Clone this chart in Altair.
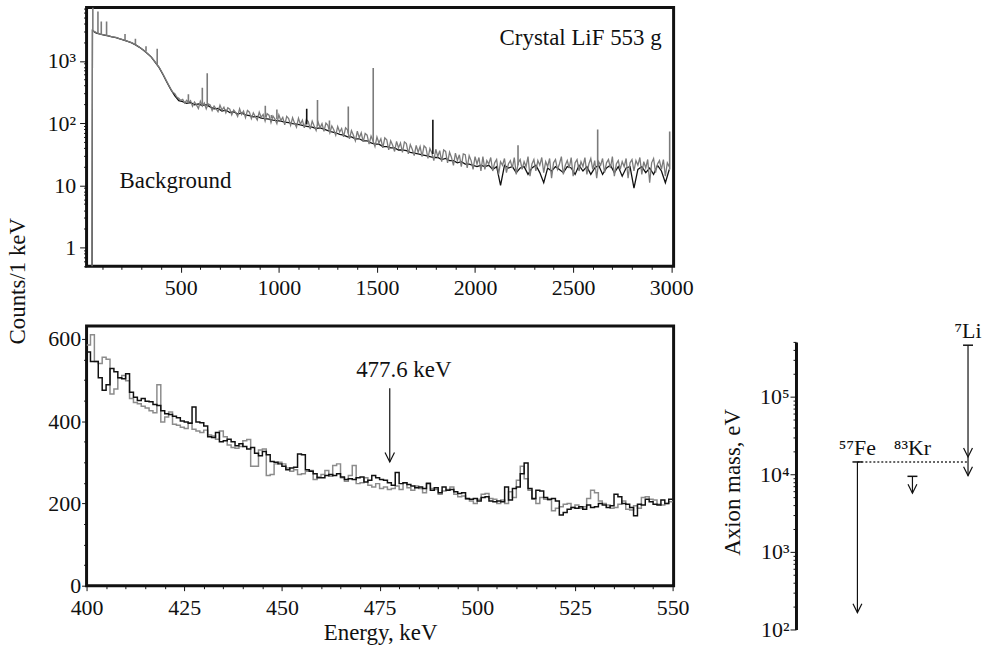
import altair as alt
import pandas as pd

FONT = "Liberation Serif"
BLACK = "#111111"
GRAY_TOP = "#7b7b7b"
GRAY_BOT = "#8c8c8c"

# ---------------- top panel: full spectrum (log) ----------------
top_start_energy = [44, 48]
top_start_counts = [0.3, 0.3]
top_gray_energy_low = list(range(50, 450, 20))
top_gray_low = [3100, 2850, 2700, 2620, 2540, 2440, 2380, 2260, 2170, 2060,
                1960, 1820, 1660, 1490, 1320, 1160, 960, 790, 610, 460]
top_gray_energy_high = list(range(450, 3000, 10))
top_gray_high = [
    350, 312, 296, 262, 250, 232, 240, 210, 232, 214,
    230, 186, 218, 196, 172, 224, 188, 210, 170, 204,
    196, 160, 188, 170, 152, 194, 162, 180, 146, 176,
    168, 136, 162, 148, 128, 170, 138, 156, 122, 160,
    150, 118, 146, 128, 112, 150, 124, 138, 108, 142,
    134, 102, 130, 116, 98, 136, 110, 124, 94, 128,
    118, 92, 122, 100, 86, 120, 96, 112, 84, 114,
    106, 80, 108, 90, 76, 104, 84, 98, 74, 100,
    92, 70, 90, 78, 64, 88, 72, 82, 60, 84,
    78, 56, 76, 64, 52, 74, 58, 70, 50, 68,
    64, 46, 62, 52, 42, 60, 48, 56, 40, 58,
    54, 37, 52, 44, 35, 51, 40, 48, 34, 50,
    47, 32, 45, 38, 30, 44, 34, 42, 29, 43,
    40, 27, 39, 33, 25, 38, 29, 36, 24, 37,
    35, 23, 34, 28, 21, 33, 25, 31, 20, 32,
    31, 19, 30, 25, 18, 29, 22, 28, 17, 29,
    18, 25, 22, 28, 17, 23, 26, 15, 24, 21,
    27, 16, 22, 25, 19, 28, 15, 23, 26, 18,
    24, 20, 29, 14, 22, 26, 17, 25, 21, 28,
    16, 24, 20, 27, 13, 23, 26, 18, 22, 29,
    15, 21, 25, 19, 28, 14, 23, 26, 17, 24,
    20, 28, 15, 22, 27, 18, 25, 13, 24, 21,
    27, 16, 23, 26, 19, 29, 14, 22, 25, 18,
    24, 20, 27, 13, 23, 26, 17, 25, 21, 28,
    15, 24, 19, 26, 11, 23, 27, 16, 22, 25,
    18, 26, 14, 23, 20,
]
top_black_energy = list(range(50, 3000, 20))
top_black = [
    3050, 2800, 2680, 2600, 2520, 2430, 2360, 2250, 2160, 2050,
    1950, 1810, 1650, 1480, 1310, 1150, 950, 780, 600, 450,
    345, 275, 230, 222, 208, 214, 196, 204, 192, 198,
    182, 170, 172, 156, 162, 148, 152, 140, 146, 136,
    132, 126, 128, 120, 118, 116, 112, 110, 108, 104,
    102, 98, 96, 94, 90, 88, 86, 82, 84, 80,
    76, 72, 70, 66, 64, 60, 60, 56, 56, 52,
    52, 48, 46, 46, 42, 42, 40, 40, 37, 37,
    36, 34, 33, 32, 31, 30, 29, 28, 28, 26,
    27, 25, 25, 23, 24, 22, 22, 21, 20, 21,
    20, 21, 18, 20, 10, 21, 19, 20, 16, 19,
    20, 15, 19, 21, 16, 11, 19, 17, 20, 18,
    16, 20, 19, 15, 21, 17, 20, 15, 19, 21,
    15, 19, 21, 16, 20, 14, 19, 20, 9, 18,
    20, 16, 19, 15, 21, 17, 11, 18,
]
top_peak_energy = [52, 78, 95, 122, 216, 269, 323, 380, 539, 610, 635, 931, 962,
                   990, 1142, 1197, 1258, 1354, 1481, 1785, 2219, 2625, 2992]
top_peak_base = [3000, 2800, 2700, 2550, 2150, 1850, 1420, 880, 215, 195, 190, 125, 120,
                 115, 95, 90, 80, 68, 50, 32, 21, 20, 18]
top_peak_top = [7180, 6200, 4300, 4300, 2700, 2270, 1720, 1570, 290, 370, 630, 190, 135,
                165, 170, 235, 110, 185, 770, 113, 44, 79, 73]
top_peak_series = ["gray", "gray", "gray", "gray", "gray", "gray", "gray", "gray", "gray",
                   "gray", "gray", "gray", "gray", "gray", "black", "gray", "gray", "gray",
                   "gray", "black", "gray", "gray", "gray"]

top_x_ticks = list(range(100, 3001, 100))
top_y_ticks = [0.5, 0.6, 0.7, 0.8, 0.9, 1, 2, 3, 4, 5, 6, 7, 8, 9,
               10, 20, 30, 40, 50, 60, 70, 80, 90,
               100, 200, 300, 400, 500, 600, 700, 800, 900,
               1000, 2000, 3000, 4000, 5000, 6000, 7000]

# ---------------- bottom panel: 400-550 keV histogram ----------------
bot_edges = list(range(400, 551))
bot_black = [
    568, 545, 545, 505, 475, 488, 528, 520, 505, 503,
    515, 470, 458, 450, 455, 448, 447, 440, 438, 425,
    418, 416, 412, 408, 400, 398, 395, 434, 398, 396,
    388, 362, 360, 372, 350, 352, 356, 350, 340, 345,
    338, 332, 336, 322, 316, 326, 318, 302, 300, 296,
    290, 282, 286, 288, 320, 318, 282, 278, 272, 262,
    262, 268, 270, 268, 272, 264, 258, 260, 258, 262,
    264, 252, 256, 268, 262, 258, 256, 250, 244, 275,
    248, 250, 246, 242, 238, 240, 236, 248, 232, 238,
    226, 240, 232, 234, 228, 224, 226, 212, 210, 212,
    206, 214, 216, 206, 204, 206, 204, 240, 208, 236,
    240, 272, 298, 236, 212, 232, 230, 214, 210, 212,
    206, 172, 178, 186, 190, 188, 192, 186, 196, 190,
    192, 200, 196, 190, 194, 222, 216, 200, 198, 190,
    170, 198, 196, 210, 204, 198, 196, 208, 200, 210,
]
bot_gray = [
    585, 610, 545, 540, 555, 550, 466, 478, 505, 511,
    498, 455, 445, 442, 436, 432, 425, 420, 488, 398,
    410, 422, 392, 390, 385, 382, 396, 380, 376, 372,
    378, 366, 364, 356, 376, 362, 342, 336, 334, 338,
    352, 355, 290, 290, 330, 332, 268, 270, 296, 300,
    296, 286, 278, 282, 270, 272, 278, 280, 258, 264,
    270, 280, 266, 292, 296, 262, 254, 268, 292, 248,
    250, 262, 244, 240, 248, 236, 240, 234, 236, 242,
    234, 250, 238, 232, 242, 236, 226, 250, 236, 234,
    222, 230, 234, 240, 222, 216, 218, 210, 206, 200,
    210, 222, 224, 212, 210, 200, 208, 200, 228, 214,
    256, 290, 260, 232, 210, 200, 214, 210, 208, 182,
    188, 192, 198, 200, 190, 196, 188, 192, 212, 232,
    226, 206, 200, 196, 188, 190, 198, 206, 186, 184,
    194, 188, 214, 216, 210, 208, 198, 196, 200, 204,
]
bot_x_ticks = list(range(400, 551, 5))
bot_y_ticks = list(range(0, 601, 50))
line_energy = [477.6]
arrow_from = [480]
arrow_to = [300.7]
line_label = ["477.6 keV"]
line_label_energy = [469]
line_label_counts = [507]

# ---------------- right panel: axion mass limits ----------------
nuclide = ["\u2075\u2077Fe", "\u2078\u00b3Kr", "\u2077Li"]
nuclide_slot = [32.5, 61.6, 91.0]
mass_upper = [14400, 9400, 460000]
mass_lower = [165, 5700, 9600]
label_mass = [14400, 14400, 460000]
li_extra_head = [16700]
mass_ticks = [100, 200, 300, 400, 500, 600, 700, 800, 900,
              1000, 2000, 3000, 4000, 5000, 6000, 7000, 8000, 9000,
              10000, 20000, 30000, 40000, 50000, 60000, 70000, 80000, 90000,
              100000, 200000, 300000, 400000, 500000]

ARROW = "M-1,-2L0,0L1,-2"
LBL = 22


def cond(test, major, minor):
    return {"condition": {"test": test, "value": major}, "value": minor}


# ================= top chart =================
top_black_df = pd.DataFrame({"E": top_start_energy + top_black_energy,
                             "c": top_start_counts + top_black})
top_gray_df = pd.DataFrame({"E": top_start_energy + top_gray_energy_low + top_gray_energy_high,
                            "c": top_start_counts + top_gray_low + top_gray_high})
peaks_df = pd.DataFrame({"E": top_peak_energy, "c": top_peak_base, "c2": top_peak_top,
                         "s": top_peak_series})

tx_test = "datum.value % 500 == 0"
top_x_axis = alt.Axis(
    values=top_x_ticks, title=None, grid=False, domain=False,
    labelExpr="datum.value % 500 == 0 ? '' + datum.value : ''",
    tickSize=cond(tx_test, 6, 3), labelFontSize=cond(tx_test, LBL, 0),
    labelPadding=5, labelFlush=False, labelOverlap=False,
)
ty_test = "datum.value == 1 || datum.value == 10 || datum.value == 100 || datum.value == 1000"
top_y_axis = alt.Axis(
    values=top_y_ticks, title="Counts/1 keV", grid=False, domain=False,
    labelExpr=("datum.value == 1 ? '1\u00a0' : datum.value == 10 ? '10\u00a0' : "
               "datum.value == 100 ? '10\u00b2' : datum.value == 1000 ? '10\u00b3' : ''"),
    tickSize=cond(ty_test, 7, 3), labelFontSize=cond(ty_test, LBL, 0),
    labelPadding=4, labelOverlap=False, labelFlush=False,
    titleX=-57, titleY=274.5, titleAngle=270, titleBaseline="bottom", titleAlign="center",
)
xs_top = alt.Scale(domain=[20, 3012], nice=False, zero=False)
ys_top = alt.Scale(type="log", domain=[0.5, 7180], nice=False)


def xt(f="E"):
    return alt.X(f + ":Q", scale=xs_top, axis=top_x_axis)


def yt(f="c"):
    return alt.Y(f + ":Q", scale=ys_top, axis=top_y_axis)


top_black_line = alt.Chart(top_black_df).mark_line(color=BLACK, strokeWidth=1.3, clip=True).encode(x=xt(), y=yt())
top_gray_line = alt.Chart(top_gray_df).mark_line(color=GRAY_TOP, strokeWidth=1.3, clip=True).encode(x=xt(), y=yt())
top_peaks = alt.Chart(peaks_df).mark_rule(strokeWidth=1.6, clip=True).encode(
    x=xt(), y=yt(), y2="c2:Q",
    color=alt.Color("s:N", scale=alt.Scale(domain=["black", "gray"], range=[BLACK, GRAY_TOP]), legend=None),
)
bg_text = alt.Chart(pd.DataFrame({"E": [188], "c": [9.0], "t": ["Background"]})).mark_text(
    align="left", baseline="alphabetic", fontSize=23, font=FONT, color=BLACK
).encode(x=xt(), y=yt(), text="t:N")
cr_text = alt.Chart(pd.DataFrame({"E": [2951], "c": [1780], "t": ["Crystal LiF 553 g"]})).mark_text(
    align="right", baseline="alphabetic", fontSize=23, font=FONT, color=BLACK
).encode(x=xt(), y=yt(), text="t:N")

top = alt.layer(top_black_line, top_gray_line, top_peaks, bg_text, cr_text).properties(width=590, height=260)

# ================= bottom chart =================
bot_black_df = pd.DataFrame({"E": bot_edges, "c": bot_black + [bot_black[-1]]})
bot_gray_df = pd.DataFrame({"E": bot_edges, "c": bot_gray + [bot_gray[-1]]})

bx_test = "datum.value % 25 == 0"
bot_x_axis = alt.Axis(
    values=bot_x_ticks, title="Energy, keV", grid=False, domain=False,
    labelExpr="datum.value % 25 == 0 ? '' + datum.value : ''",
    tickSize=cond(bx_test, 5, 3), labelFontSize=cond(bx_test, LBL, 0),
    labelPadding=7, labelFlush=False, labelOverlap=False, titlePadding=3,
)
by_test = "datum.value % 200 == 0"
bot_y_axis = alt.Axis(
    values=bot_y_ticks, title=None, grid=False, domain=False,
    labelExpr="datum.value % 200 == 0 ? '' + datum.value : ''",
    tickSize=cond(by_test, 5, 3), labelFontSize=cond(by_test, LBL, 0),
    labelPadding=1, labelOverlap=False, labelFlush=False,
)
xs_bot = alt.Scale(domain=[400, 550.25], nice=False, zero=False)
ys_bot = alt.Scale(domain=[0, 631], nice=False)


def xb(f="E"):
    return alt.X(f + ":Q", scale=xs_bot, axis=bot_x_axis)


def yb(f="c"):
    return alt.Y(f + ":Q", scale=ys_bot, axis=bot_y_axis)


bot_gray_line = alt.Chart(bot_gray_df).mark_line(interpolate="step-after", color=GRAY_BOT, strokeWidth=1.5, clip=True).encode(x=xb(), y=yb())
bot_black_line = alt.Chart(bot_black_df).mark_line(interpolate="step-after", color=BLACK, strokeWidth=1.5, clip=True).encode(x=xb(), y=yb())
arrow_df = pd.DataFrame({"E": line_energy, "c": arrow_from, "c2": arrow_to})
bot_arrow = alt.Chart(arrow_df).mark_rule(color=BLACK, strokeWidth=1.2).encode(x=xb(), y=yb(), y2="c2:Q")
bot_head = alt.Chart(arrow_df).mark_point(shape=ARROW, size=90, filled=False, stroke=BLACK, strokeWidth=1.2, opacity=1).encode(x=xb(), y=yb("c2"))
bot_label = alt.Chart(pd.DataFrame({"E": line_label_energy, "c": line_label_counts, "t": line_label})).mark_text(
    align="left", baseline="alphabetic", fontSize=23, font=FONT, color=BLACK
).encode(x=xb(), y=yb(), text="t:N")

bottom = alt.layer(bot_gray_line, bot_black_line, bot_arrow, bot_head, bot_label).properties(width=590, height=261)

# ================= right chart =================
nuc_df = pd.DataFrame({"slot": nuclide_slot, "upper": mass_upper, "lower": mass_lower,
                       "label": nuclide, "lm": label_mass})
dot_df = pd.DataFrame({"slot": [nuclide_slot[0]], "slot2": [nuclide_slot[2]], "m": [mass_upper[0]]})
extra_df = pd.DataFrame({"slot": [nuclide_slot[2]], "m": li_extra_head})

r_test = "datum.value == 100 || datum.value == 1000 || datum.value == 10000 || datum.value == 100000"
right_axis = alt.Axis(
    values=mass_ticks, title="Axion mass, eV", grid=False,
    domain=True, domainWidth=3, domainColor=BLACK,
    labelExpr=("datum.value == 100 ? '10\u00b2' : datum.value == 1000 ? '10\u00b3' : "
               "datum.value == 10000 ? '10\u2074' : datum.value == 100000 ? '10\u2075' : ''"),
    tickSize=cond(r_test, 6, 3), labelFontSize=cond(r_test, LBL, 0),
    labelPadding=1, labelOverlap=False, labelFlush=False,
    titleX=-52, titleY=156.7, titleAngle=270, titleBaseline="bottom", titleAlign="center",
)
xs_r = alt.Scale(domain=[0, 100], nice=False, zero=False)
ys_r = alt.Scale(type="log", domain=[100, 507000], range=[305, 16], nice=False)


def xr(f="slot"):
    return alt.X(f + ":Q", scale=xs_r, axis=None)


def yr(f):
    return alt.Y(f + ":Q", scale=ys_r, axis=right_axis)


r_lines = alt.Chart(nuc_df).mark_rule(color=BLACK, strokeWidth=1.2).encode(x=xr(), y=yr("upper"), y2="lower:Q")
r_caps = alt.Chart(nuc_df).mark_tick(orient="horizontal", size=10, thickness=1.5, color=BLACK, opacity=1).encode(x=xr(), y=yr("upper"))
r_heads = alt.Chart(nuc_df).mark_point(shape=ARROW, size=80, filled=False, stroke=BLACK, strokeWidth=1.2, opacity=1).encode(x=xr(), y=yr("lower"))
r_extra = alt.Chart(extra_df).mark_point(shape=ARROW, size=80, filled=False, stroke=BLACK, strokeWidth=1.2, opacity=1).encode(x=xr(), y=yr("m"))
r_dots = alt.Chart(dot_df).mark_rule(color="#333333", strokeWidth=1.5, strokeDash=[2, 2]).encode(x=xr(), x2="slot2:Q", y=yr("m"))
r_labels = alt.Chart(nuc_df).mark_text(align="center", baseline="alphabetic", dy=-7, fontSize=22, font=FONT, color=BLACK).encode(
    x=xr(), y=yr("lm"), text="label:N")

right = alt.layer(r_dots, r_lines, r_caps, r_heads, r_extra, r_labels).properties(
    width=190, height=305, view=alt.ViewBackground(stroke="transparent"))

chart = alt.vconcat(
    top,
    alt.hconcat(bottom, right, spacing=123, bounds="flush"),
    spacing=60, bounds="flush",
).properties(
    padding={"left": 5, "top": 4, "right": 5, "bottom": 5}
).configure_view(
    stroke=BLACK, strokeWidth=3
).configure_axis(
    labelFont=FONT, titleFont=FONT, labelColor=BLACK, titleColor=BLACK, tickColor=BLACK,
    titleFontWeight="normal", titleFontSize=23, domain=False, grid=False,
).configure_text(font=FONT, color=BLACK)

chart.save("out.html", embed_options={"renderer": "svg", "actions": False})
